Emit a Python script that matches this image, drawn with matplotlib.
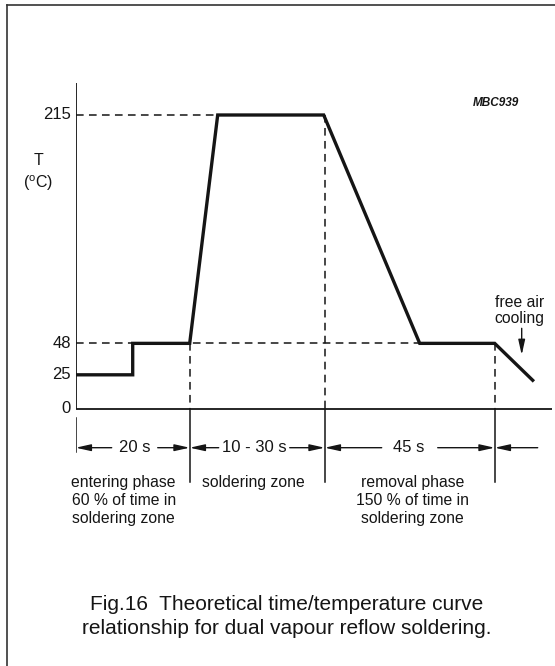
"""
Theoretical time/temperature curve for dual vapour reflow soldering (Fig.16).
Schematic: the time axis is not to scale, so times are in drawing units.
"""
import matplotlib
matplotlib.use("Agg")
import matplotlib.pyplot as plt
from matplotlib.lines import Line2D

plt.rcParams["font.family"] = ["Liberation Sans", "DejaVu Sans"]
plt.rcParams["mathtext.fontset"] = "custom"
plt.rcParams["mathtext.rm"] = "Liberation Sans"

# curve (schematic time units, temperature in deg C)
curve_t = [0, 57, 57, 114, 142, 248, 344, 419, 457]
curve_T = [25, 25, 48, 48, 215, 215, 48, 48, 21]

temp_ticks = [0, 25, 48, 215]
phase_bounds = [0, 114, 249, 419]
dim_labels = ["20 s", "10 - 30 s", "45 s"]
dim_text_x = [59, 179, 333]
phase_texts = ["entering phase\n60 % of time in\nsoldering zone",
               "soldering zone",
               "removal phase\n150 % of time in\nsoldering zone"]
phase_text_x = [48, 178, 337]

INK = "#151515"
T_MAX = 238.4
T_MIN = -66.55
T_END = 476

fig = plt.figure(figsize=(5.55, 6.66), dpi=100)
ax = fig.add_axes([75.7 / 555, 166 / 666, 476 / 555, 417 / 666])
ax.set_xlim(0, T_END)
ax.set_ylim(T_MIN, T_MAX)
ax.axis("off")

# axes drawn by hand
ax.plot([0, 0], [0, T_MAX], color=INK, lw=1.3, solid_capstyle="butt")
ax.plot([0, T_END], [0, 0], color=INK, lw=1.3, solid_capstyle="butt")
for v in temp_ticks:
    ax.text(-5, v, str(v), ha="right", va="center", fontsize=12, color=INK)
ax.text(-36.7, 182, "T", ha="center", va="center", fontsize=11.5, color=INK)
ax.text(-38, 165, r"($^{\rm o}$C)", ha="center", va="center", fontsize=11.5, color=INK)

# dashed guide lines
dash = dict(color=INK, lw=1.1, ls=(0, (5, 3.5)))
ax.plot([0, curve_t[4]], [215, 215], **dash)
ax.plot([0, phase_bounds[3]], [48, 48], **dash)
ax.plot([phase_bounds[1], phase_bounds[1]], [48, 0], **dash)
ax.plot([phase_bounds[2], phase_bounds[2]], [215, 0], **dash)
ax.plot([phase_bounds[3], phase_bounds[3]], [48, 0], **dash)

# the curve
ax.plot(curve_t, curve_T, color=INK, lw=2.4, solid_joinstyle="miter")

# phase boundary lines below the axis
ax.plot([0, 0], [-6.6, -31.4], color=INK, lw=1.1)
for b in phase_bounds[1:]:
    ax.plot([b, b], [0, -53.5], color=INK, lw=1.1)

# dimension arrows
arr = dict(arrowstyle="-|>,head_length=0.9,head_width=0.2", color=INK, lw=1.0,
           shrinkA=0, shrinkB=0)
y_dim = -28.3
arrow_starts = [(36, 82), (143, 214), (306, 362)]
for i, lab in enumerate(dim_labels):
    ax.text(dim_text_x[i], y_dim, lab, ha="center", va="center", fontsize=12, color=INK)
    left, right = arrow_starts[i]
    ax.annotate("", xy=(phase_bounds[i], y_dim), xytext=(left, y_dim), arrowprops=arr)
    ax.annotate("", xy=(phase_bounds[i + 1], y_dim), xytext=(right, y_dim), arrowprops=arr)
ax.annotate("", xy=(phase_bounds[3], y_dim), xytext=(462, y_dim), arrowprops=arr,
            annotation_clip=False)

for x, txt in zip(phase_text_x, phase_texts):
    ax.text(x, -48.3, txt, ha="center", va="top", fontsize=11.3, color=INK,
            linespacing=1.25)

# free air cooling
ax.text(444, 72, "free air\ncooling", ha="center", va="center", fontsize=11.3,
        color=INK, linespacing=1.12)
ax.annotate("", xy=(446, 39.5), xytext=(446, 59),
            arrowprops=dict(arrowstyle="-|>,head_length=0.9,head_width=0.2",
                            color=INK, lw=1.0, shrinkA=0, shrinkB=0))

ax.text(420, 224, "MBC939", ha="center", va="center", fontsize=8.5,
        style="italic", weight="bold", color=INK)

# caption
fig.text(287 / 555, 1 - 616.5 / 666,
         "Fig.16  Theoretical time/temperature curve\n"
         "relationship for dual vapour reflow soldering.",
         ha="center", va="center", fontsize=15, color=INK, linespacing=1.36)

# frame
fig.add_artist(Line2D([7 / 555, 7 / 555], [0, 1 - 5 / 666], color="#333333", lw=1.2))
fig.add_artist(Line2D([7 / 555, 1], [1 - 5 / 666, 1 - 5 / 666], color="#333333", lw=1.2))

fig.savefig("out.png", dpi=100)
